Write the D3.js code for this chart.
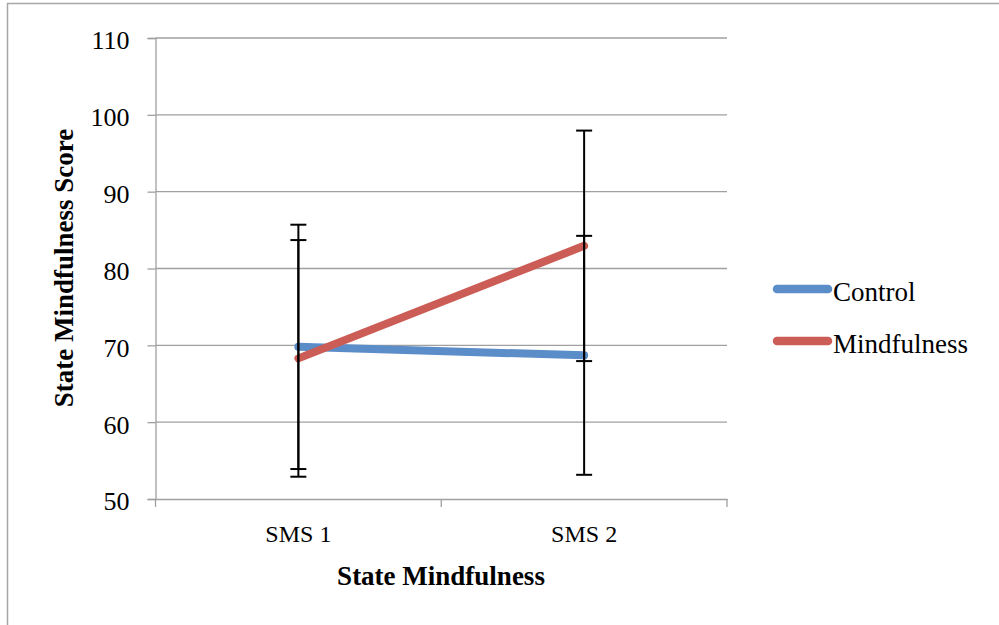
<!DOCTYPE html>
<html><head><meta charset="utf-8">
<script src="https://cdn.jsdelivr.net/npm/d3@7"></script>
<style>body{margin:0;background:#fff;} svg{display:block;}</style>
</head><body>
<script>
const categories = ["SMS 1", "SMS 2"];
const seriesNames = ["Control", "Mindfulness"];
const controlValues = [69.8, 68.7];
const controlErrors = [15.9, 15.55];
const mindfulnessValues = [68.3, 82.95];
const mindfulnessErrors = [15.4, 15.0];
const yTicks = [50, 60, 70, 80, 90, 100, 110];
const colors = ["#5B8DC8", "#CC5D56"];

(function () {
const W = 999, H = 625;
const font = "'Liberation Serif', 'DejaVu Serif', serif";
const svg = d3.select("body").append("svg").attr("width", W).attr("height", H);

// outer frame
svg.append("path").attr("d", `M7.5,${H+2} V3.5 H${W+2}`).attr("fill","none").attr("stroke","#a6a6a6").attr("stroke-width",1.5);

const mLeft = 155.5, mRight = 727, mTop = 38, mBottom = 499;
const x = d3.scaleBand().domain(categories).range([mLeft, mRight]);
const y = d3.scaleLinear().domain([50, 110]).range([mBottom, mTop]);

// gridlines
svg.append("g").selectAll("line").data(yTicks.slice(1)).join("line")
  .attr("x1", mLeft).attr("x2", mRight).attr("y1", d => y(d)).attr("y2", d => y(d))
  .attr("stroke", "#a0a0a0").attr("stroke-width", 1.3);

// y axis
const yAxis = svg.append("g").attr("transform", `translate(${mLeft},0)`)
  .call(d3.axisLeft(y).tickValues(yTicks).tickSize(8).tickPadding(18));
yAxis.select(".domain").attr("stroke", "#a0a0a0").attr("stroke-width", 1.3);
yAxis.selectAll(".tick line").attr("stroke", "#a0a0a0").attr("stroke-width", 1.3);
yAxis.selectAll("text").attr("font-family", font).attr("font-size", 26).attr("fill", "#000").attr("dy", "0.42em");

// x axis
const xAxis = svg.append("g").attr("transform", `translate(0,${mBottom})`)
  .call(d3.axisBottom(x).tickSize(0).tickPadding(0));
xAxis.select(".domain").attr("stroke", "#a0a0a0").attr("stroke-width", 1.3);
xAxis.selectAll("text").attr("font-family", font).attr("font-size", 24).attr("fill", "#000")
  .attr("y", 43).attr("dy", 0);
const bounds = [mLeft, x(categories[1]), mRight];
svg.append("g").selectAll("line").data(bounds).join("line")
  .attr("x1", d => d).attr("x2", d => d).attr("y1", mBottom).attr("y2", mBottom + 8)
  .attr("stroke", "#a0a0a0").attr("stroke-width", 1.3);

const cx = c => x(c) + x.bandwidth() / 2;

const series = [
  {name: seriesNames[0], values: controlValues, errors: controlErrors, color: colors[0]},
  {name: seriesNames[1], values: mindfulnessValues, errors: mindfulnessErrors, color: colors[1]}
];

const line = d3.line().x((d, i) => cx(categories[i])).y(d => y(d));
series.forEach(s => {
  svg.append("path").attr("d", line(s.values)).attr("fill", "none")
    .attr("stroke", s.color).attr("stroke-width", 8).attr("stroke-linecap", "round");
});

series.forEach(s => {
  const g = svg.append("g").attr("stroke", "#000").attr("stroke-width", 2);
  s.values.forEach((v, i) => {
    const px = cx(categories[i]);
    g.append("line").attr("x1", px).attr("x2", px).attr("y1", y(v + s.errors[i])).attr("y2", y(v - s.errors[i]));
    [v + s.errors[i], v - s.errors[i]].forEach(e => {
      g.append("line").attr("x1", px - 8).attr("x2", px + 8).attr("y1", y(e)).attr("y2", y(e));
    });
  });
});

series.forEach((s, i) => {
  const ly = 289 + i * 52;
  svg.append("line").attr("x1", 777).attr("x2", 828).attr("y1", ly).attr("y2", ly)
    .attr("stroke", s.color).attr("stroke-width", 8.5).attr("stroke-linecap", "round");
  svg.append("text").attr("x", 833).attr("y", ly + 12).text(s.name)
    .attr("font-family", font).attr("font-size", 27).attr("fill", "#000");
});

svg.append("text").attr("x", 441).attr("y", 585).attr("text-anchor", "middle")
  .attr("font-family", font).attr("font-weight", "bold").attr("font-size", 27).text("State Mindfulness");
svg.append("text").attr("transform", `translate(73,268) rotate(-90)`).attr("text-anchor", "middle")
  .attr("font-family", font).attr("font-weight", "bold").attr("font-size", 27).text("State Mindfulness Score");
})();
</script>
</body></html>
